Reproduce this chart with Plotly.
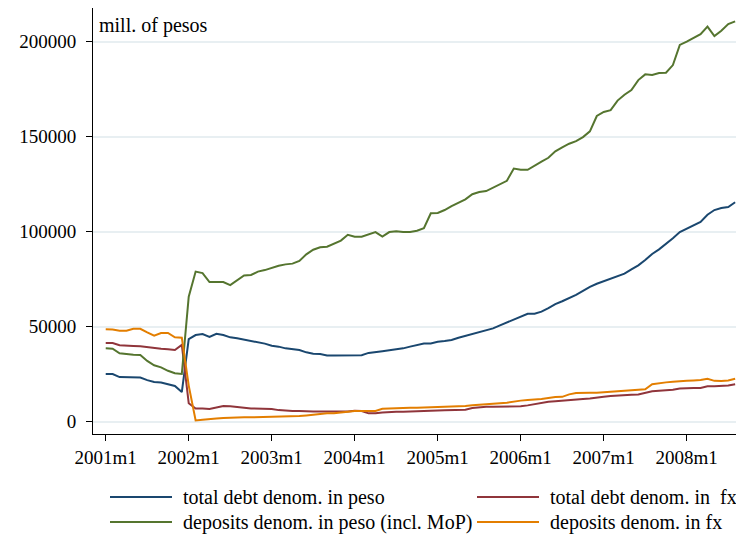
import plotly.graph_objects as go

# monthly series, 2001m1 .. 2008m8, mill. of pesos
debt_peso = [25100, 25100, 23500, 23400, 23200, 23200, 21900, 20900, 20600, 19800, 18800, 15600,
             43500, 45600, 46100, 44600, 46300, 45600, 44400, 43900, 43200, 42500, 41900, 41100,
             40000, 39500, 38600, 38300, 37700, 36500, 35800, 35600, 34900, 34900, 34900, 34900,
             34700, 35000, 36200, 36500, 37100, 37600, 38100, 38600, 39500, 40300, 41200, 41200,
             42100, 42500, 43000, 44200, 45100, 46000, 46900, 47900, 49100, 50700, 52200, 54000,
             55300, 56800, 56800, 57900, 59800, 61900, 63400, 64900, 66700, 68800, 71000, 72600,
             73900, 74900, 76300, 77900, 80200, 82300, 85100, 88300, 90700, 93500, 96500, 99800,
             101600, 103000, 105100, 108900, 111400, 112500, 113000, 115500]
debt_fx = [41400, 41400, 40200, 39900, 39900, 39700, 39200, 38600, 38400, 38100, 37700, 40400,
           9700, 6900, 7000, 6700, 7700, 8300, 8100, 7900, 7400, 7000, 6900, 6600,
           6700, 6100, 5800, 5600, 5600, 5400, 5400, 5400, 5400, 5600, 5600, 5400,
           5800, 5600, 4400, 4400, 4800, 5100, 5200, 5200, 5400, 5600, 5600, 5800,
           5900, 6000, 6200, 6200, 6300, 7200, 7700, 7900, 7900, 7900, 7900, 7900,
           8100, 8600, 9300, 9900, 10500, 10800, 11100, 11600, 12000, 12000, 12200, 12500,
           13100, 13500, 13800, 14000, 14200, 14300, 15100, 16000, 16300, 16500, 16800, 17500,
           17800, 17800, 17700, 18600, 18600, 18700, 19100, 19700]
dep_peso = [38600, 38400, 36000, 35500, 35300, 35100, 32000, 29700, 28600, 26800, 25500, 25100,
            65800, 79000, 78200, 73500, 73500, 73500, 71900, 74400, 77000, 77200, 79000, 79800,
            81000, 82100, 82800, 83200, 84600, 88100, 90500, 91800, 92100, 93900, 95300, 98400,
            97400, 97400, 98400, 99800, 97400, 99800, 100200, 99800, 99800, 100500, 101800, 109700,
            109900, 111400, 113500, 115300, 117000, 119700, 120900, 121400, 123200, 125100, 126800, 133200,
            132600, 132600, 134900, 136900, 138900, 142300, 144400, 146300, 147700, 149800, 152800, 160900,
            163000, 164000, 169000, 172100, 174600, 179800, 182800, 182500, 183500, 183700, 187700, 198300,
            200000, 201800, 204000, 207900, 203000, 205800, 209300, 210700]
dep_fx = [48600, 48500, 47900, 47900, 48900, 48900, 47000, 45300, 46700, 46700, 44400, 44200,
          19000, 700, 1000, 1500, 1700, 2000, 2200, 2200, 2300, 2300, 2400, 2400,
          2300, 2400, 2500, 2800, 3000, 3300, 3700, 4000, 4400, 4500, 4900, 5300,
          5600, 5600, 5600, 5700, 6800, 7000, 7000, 7200, 7400, 7400, 7500, 7500,
          7700, 7800, 7900, 7900, 8300, 8600, 8800, 9200, 9400, 9700, 10000, 10700,
          11100, 11400, 11600, 11900, 12500, 13000, 13100, 14400, 15100, 15300, 15300, 15300,
          15600, 15800, 16000, 16300, 16800, 16800, 17100, 19700, 20400, 20700, 21000, 21400,
          21500, 21700, 21900, 22600, 21500, 21400, 21700, 22600]

months = [f"{2001 + i // 12}m{i % 12 + 1}" for i in range(len(debt_peso))]
tick_labels = ["2001m1", "2002m1", "2003m1", "2004m1", "2005m1", "2006m1", "2007m1", "2008m1"]
y_ticks = [0, 50000, 100000, 150000, 200000]

names = ["total debt denom. in peso", "total debt denom. in \u00a0fx",
         "deposits denom. in peso (incl. MoP)", "deposits denom. in fx"]
colors = ["#1a476f", "#90353b", "#55752f", "#e37e00"]
series = [debt_peso, debt_fx, dep_peso, dep_fx]

font = "Liberation Serif, Times New Roman, serif"
x = list(range(len(months)))

fig = go.Figure()
for name, col, vals in zip(names, colors, series):
    fig.add_trace(go.Scatter(x=x, y=vals, name=name, mode="lines", customdata=months,
                             line=dict(color=col, width=2), showlegend=False,
                             hovertemplate="%{customdata}: %{y}<extra>" + name + "</extra>"))

# legend drawn by hand (2 x 2, Stata style); page offsets account for the 8px body margin
W, H = 651, 426
legend_pos = [(110, 497), (477, 497), (110, 522), (477, 522)]
for name, col, (lx, ly) in zip(names, colors, legend_pos):
    yp = (434 - ly) / H
    fig.add_shape(type="line", xref="paper", yref="paper",
                  x0=(lx - 93) / W, x1=(lx + 62 - 93) / W, y0=yp, y1=yp,
                  line=dict(color=col, width=2))
    fig.add_annotation(text=name, xref="paper", yref="paper", x=(lx + 71 - 93) / W, y=yp,
                       xanchor="left", yanchor="middle", showarrow=False,
                       font=dict(family=font, size=20, color="black"))

fig.add_annotation(text="mill. of pesos", xref="paper", yref="paper", x=(97 - 93) / W,
                   y=(434 - 25) / H, xanchor="left", yanchor="middle", showarrow=False,
                   font=dict(family=font, size=20, color="black"))

fig.update_xaxes(range=[-1.84, 92.28], tickvals=[12 * k for k in range(len(tick_labels))],
                 ticktext=tick_labels, ticks="outside", ticklen=6, tickcolor="black",
                 showline=True, linecolor="black", linewidth=1, showgrid=False, zeroline=False,
                 tickfont=dict(family=font, size=19, color="black"))
fig.update_yaxes(range=[-6470, 217730], tickvals=y_ticks, ticks="outside", ticklen=6,
                 tickcolor="black", showline=True, linecolor="black", linewidth=1,
                 showgrid=True, gridcolor="#e8eff2", gridwidth=1.5, zeroline=False,
                 tickformat="d", ticklabelstandoff=6,
                 tickfont=dict(family=font, size=19, color="black"))
fig.update_layout(width=736, height=534, plot_bgcolor="white", paper_bgcolor="white",
                  margin=dict(l=85, r=0, t=0, b=108), showlegend=False)
fig.write_html("out.html")
